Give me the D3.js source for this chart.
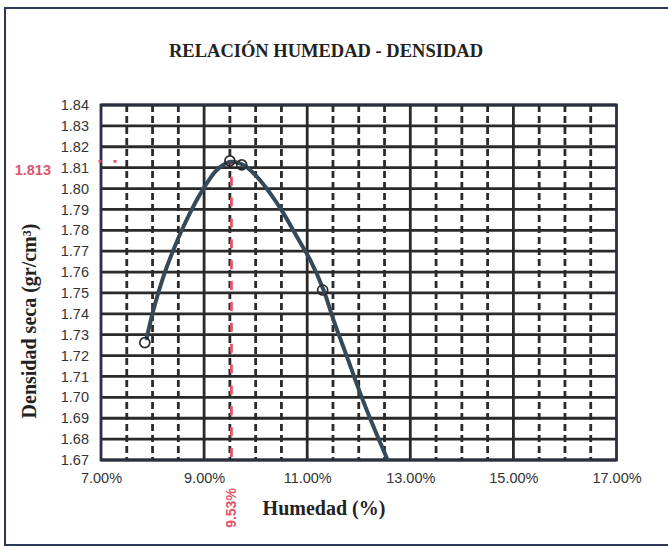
<!DOCTYPE html>
<html>
<head>
<meta charset="utf-8">
<script src="https://cdn.jsdelivr.net/npm/d3@7"></script>
<style>
  html, body { margin: 0; padding: 0; background: #fff; }
  svg { display: block; }
</style>
</head>
<body>
<svg id="chart" width="668" height="549"></svg>
<script>
// ---- data ----
const chartTitle = "RELACIÓN HUMEDAD - DENSIDAD";
const xTitle = "Humedad (%)";
const yTitle = "Densidad seca (gr/cm³)";

const xMajorTicks = [7, 9, 11, 13, 15, 17];
const xMinorTicks = [7.5, 8, 8.5, 9.5, 10, 10.5, 11.5, 12, 12.5, 13.5, 14, 14.5, 15.5, 16, 16.5];
const xSolidGrid = [9, 11, 13, 15];
const yTicks = [1.67, 1.68, 1.69, 1.70, 1.71, 1.72, 1.73, 1.74, 1.75, 1.76, 1.77, 1.78, 1.79, 1.80, 1.81, 1.82, 1.83, 1.84];

// measured points (humidity %, dry density)
const pointX = [7.85, 9.50, 9.73, 11.30];
const pointY = [1.7262, 1.8132, 1.8113, 1.7514];

// fitted curve
const curveX = [7.887, 8.016, 8.210, 8.404, 8.598, 8.858, 9.052, 9.247, 9.505, 9.763, 10.023, 10.282, 10.540, 10.800, 11.058, 11.317, 11.511, 11.771, 12.029, 12.287, 12.560];
const curveY = [1.7283, 1.7418, 1.7578, 1.7706, 1.7817, 1.7945, 1.8025, 1.8089, 1.8128, 1.8113, 1.8057, 1.7977, 1.7881, 1.7769, 1.7658, 1.7514, 1.7370, 1.7195, 1.7019, 1.6859, 1.6700];

// optimum
const optHumidity = 9.53;
const optDensity = 1.813;
const optHumidityLabel = "9.53%";
const optDensityLabel = "1.813";

// ---- drawing ----
const svg = d3.select("#chart");
const pL = 101, pR = 616.5, pT = 105, pB = 460;
const x = d3.scaleLinear().domain([7, 17]).range([pL, pR]);
const y = d3.scaleLinear().domain([1.67, 1.84]).range([pB, pT]);

const gridColor = "#2a2a2a";
const red = "#e2546b";
const sans = "'Liberation Sans', Arial, sans-serif";
const serif = "'Liberation Serif', 'Times New Roman', serif";

svg.append("rect").attr("width", 668).attr("height", 549).attr("fill", "#fff");

// outer frame
svg.append("rect")
  .attr("x", 5).attr("y", 8).attr("width", 700).attr("height", 537)
  .attr("fill", "none").attr("stroke", "#2c3858").attr("stroke-width", 2);

// title
svg.append("text")
  .attr("x", 326).attr("y", 57)
  .attr("text-anchor", "middle")
  .attr("font-family", serif).attr("font-weight", "bold").attr("font-size", 18.5)
  .attr("fill", "#222")
  .text(chartTitle);

// grid
const grid = svg.append("g");
grid.selectAll("line.h").data(yTicks).join("line")
  .attr("x1", pL).attr("x2", pR)
  .attr("y1", d => y(d)).attr("y2", d => y(d))
  .attr("stroke", gridColor).attr("stroke-width", 2.8);
grid.append("g").selectAll("line").data(xMinorTicks).join("line")
  .attr("x1", d => x(d)).attr("x2", d => x(d))
  .attr("y1", pT).attr("y2", pB)
  .attr("stroke", gridColor).attr("stroke-width", 2.8)
  .attr("stroke-dasharray", "7,4");
grid.append("g").selectAll("line").data(xSolidGrid).join("line")
  .attr("x1", d => x(d)).attr("x2", d => x(d))
  .attr("y1", pT).attr("y2", pB)
  .attr("stroke", gridColor).attr("stroke-width", 2.8);

// plot border
svg.append("rect")
  .attr("x", pL).attr("y", pT).attr("width", pR - pL).attr("height", pB - pT)
  .attr("fill", "none").attr("stroke", "#2b3040").attr("stroke-width", 2.8);

// axes (labels only)
const yAxis = svg.append("g").attr("transform", `translate(${pL},0)`)
  .call(d3.axisLeft(y).tickValues(yTicks).tickSize(0).tickPadding(12).tickFormat(d3.format(".2f")));
const xAxis = svg.append("g").attr("transform", `translate(0,${pB})`)
  .call(d3.axisBottom(x).tickValues(xMajorTicks).tickSize(0).tickPadding(13).tickFormat(d => d3.format(".2f")(d) + "%"));
[yAxis, xAxis].forEach(a => {
  a.select(".domain").remove();
  a.selectAll("text").attr("font-family", sans).attr("font-size", 14.5).attr("fill", "#333");
});

// axis titles
svg.append("text")
  .attr("x", 324).attr("y", 515)
  .attr("text-anchor", "middle")
  .attr("font-family", serif).attr("font-weight", "bold").attr("font-size", 20)
  .attr("fill", "#222")
  .text(xTitle);
svg.append("text")
  .attr("transform", "translate(35.5,321) rotate(-90)")
  .attr("text-anchor", "middle")
  .attr("font-family", serif).attr("font-weight", "bold").attr("font-size", 20)
  .attr("fill", "#222")
  .text(yTitle);

// optimum markers
svg.append("line")
  .attr("x1", x(optHumidity)).attr("x2", x(optHumidity))
  .attr("y1", y(optDensity)).attr("y2", pB)
  .attr("stroke", red).attr("stroke-width", 2.8)
  .attr("stroke-dasharray", "9,11.88").attr("stroke-dashoffset", 5.6);
svg.append("line")
  .attr("x1", 98.5).attr("x2", 117)
  .attr("y1", y(optDensity)).attr("y2", y(optDensity))
  .attr("stroke", red).attr("stroke-width", 2.6)
  .attr("stroke-dasharray", "3,12");

svg.append("text")
  .attr("x", 51).attr("y", y(optDensity) + 13.5)
  .attr("text-anchor", "end")
  .attr("font-family", sans).attr("font-weight", "bold").attr("font-size", 14.5)
  .attr("fill", red)
  .text(optDensityLabel);
svg.append("text")
  .attr("transform", `translate(${x(optHumidity) + 5},508) rotate(-90)`)
  .attr("text-anchor", "middle")
  .attr("font-family", sans).attr("font-weight", "bold").attr("font-size", 14)
  .attr("fill", red)
  .text(optHumidityLabel);

// clip
svg.append("clipPath").attr("id", "plotclip")
  .append("rect").attr("x", pL).attr("y", pT).attr("width", pR - pL).attr("height", pB - pT);

// curve
const curveData = curveX.map((d, i) => [d, curveY[i]]);
svg.append("path")
  .datum(curveData)
  .attr("clip-path", "url(#plotclip)")
  .attr("fill", "none")
  .attr("stroke", "#34495a")
  .attr("stroke-width", 4)
  .attr("stroke-linecap", "round")
  .attr("d", d3.line().x(d => x(d[0])).y(d => y(d[1])).curve(d3.curveCatmullRom));

// points
svg.selectAll("circle.pt").data(pointX.map((d, i) => [d, pointY[i]])).join("circle")
  .attr("cx", d => x(d[0])).attr("cy", d => y(d[1]))
  .attr("r", 5)
  .attr("fill", "none")
  .attr("stroke", "#2a2a2a").attr("stroke-width", 1.7);
</script>
</body>
</html>
